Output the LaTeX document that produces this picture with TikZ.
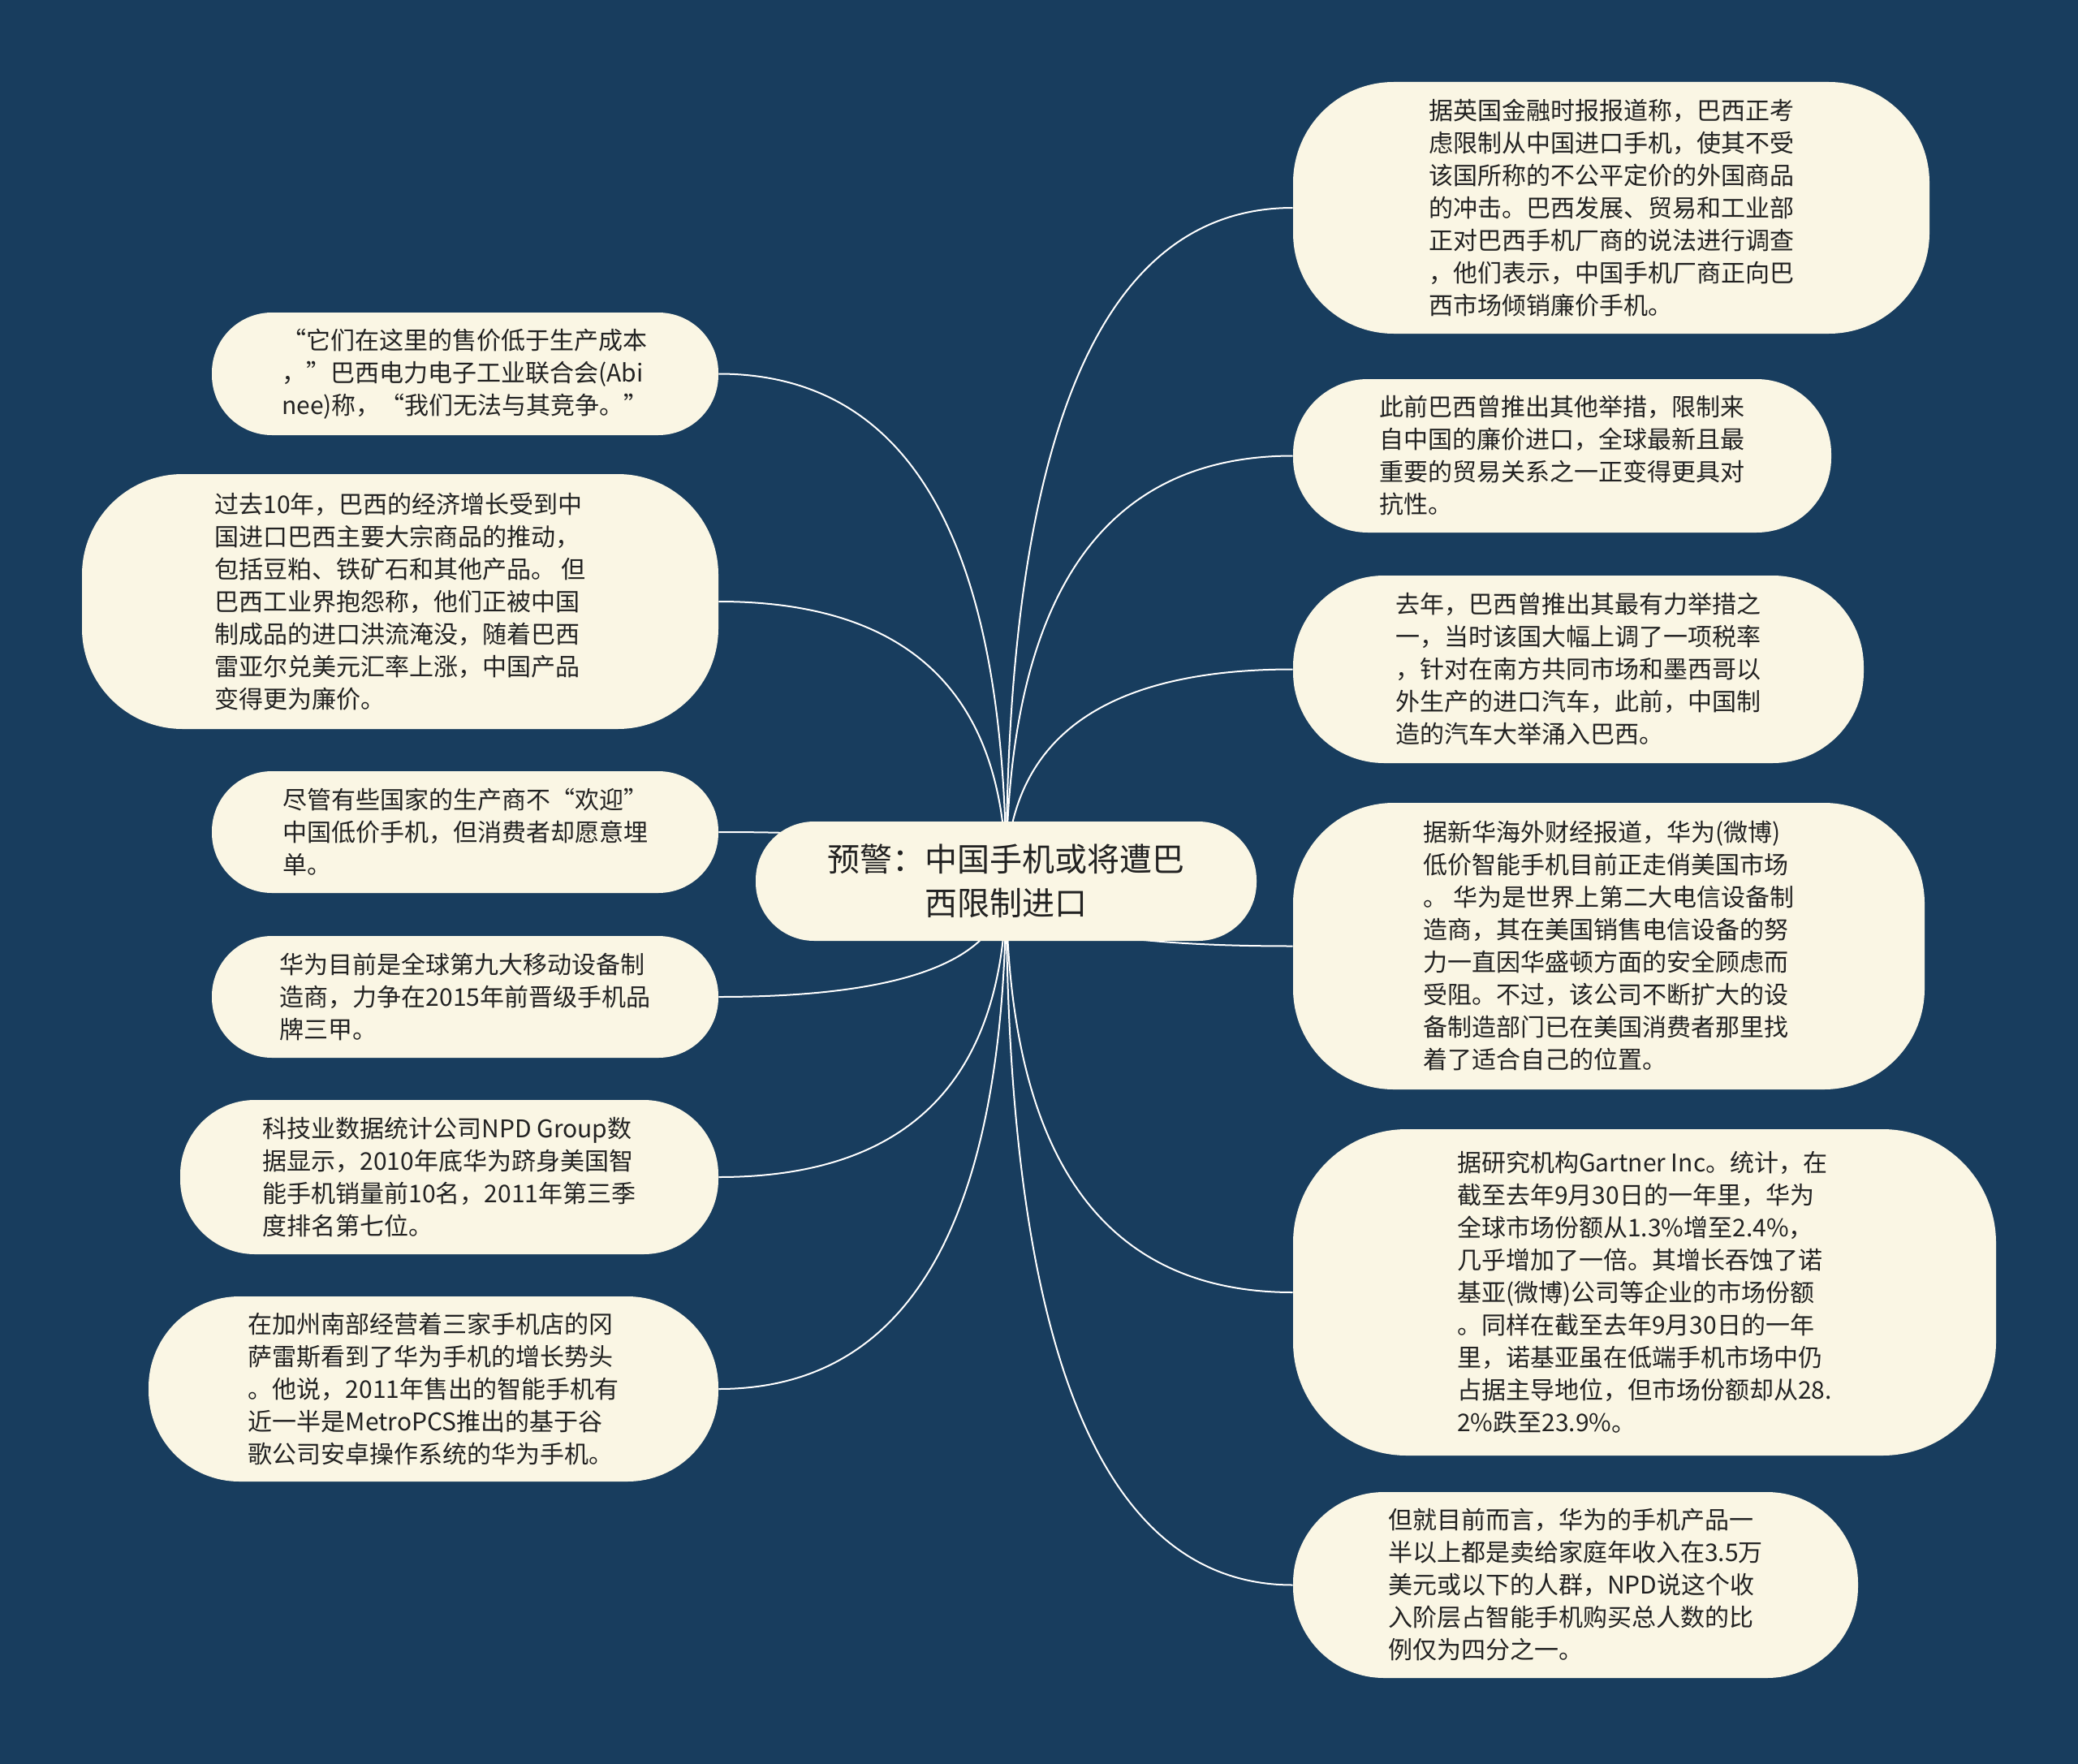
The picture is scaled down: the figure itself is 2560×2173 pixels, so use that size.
\documentclass[tikz,border=0pt]{standalone}
\usepackage{fontspec}
\usepackage{xcolor}
\usetikzlibrary{calc}
\newfontfamily\cjk{Noto Sans CJK SC}
\definecolor{mapnavy}{RGB}{24,61,94}
\definecolor{leafcream}{RGB}{250,246,228}
\definecolor{leaftext}{RGB}{34,34,34}
\pgfdeclarelayer{bg}
\pgfdeclarelayer{links}
\pgfsetlayers{bg,links,main}

\begin{document}
\begin{tikzpicture}[x=0.5pt,y=-0.5pt,
    root/.style={rectangle,rounded corners=36pt,fill=leafcream,text=leaftext,inner sep=0pt,
      align=center,minimum width=308.5pt,minimum height=73.5pt,font=\cjk\fontsize{20pt}{27pt}\selectfont},
    leaf/.style={rectangle,rounded corners=#1,fill=leafcream,text=leaftext,inner sep=0pt,
      align=left,font=\cjk\fontsize{15pt}{20pt}\selectfont},
    leaf/.default=62pt,
    leafsize/.style 2 args={minimum width=#1*0.5pt,minimum height=#2*0.5pt},
    link/.style={draw=white,line width=1pt}
  ]
    \useasboundingbox (0,0) rectangle (2560,2173);
    \begin{pgfonlayer}{bg}
      \fill[mapnavy] (0,0) rectangle (2560,2173);
    \end{pgfonlayer}

    \node[root] (root) at (1239.5,1085.5) {预警：中国手机或将遭巴\\西限制进口};

    % right branch
    \node[leaf,leafsize={784}{310}] (r1) at (1985,256) {据英国金融时报报道称，巴西正考\\虑限制从中国进口手机，使其不受\\该国所称的不公平定价的外国商品\\的冲击。巴西发展、贸易和工业部\\正对巴西手机厂商的说法进行调查\\，他们表示，中国手机厂商正向巴\\西市场倾销廉价手机。};
    \node[leaf=46pt,leafsize={663}{189}] (r2) at (1924.5,561.5) {此前巴西曾推出其他举措，限制来\\自中国的廉价进口，全球最新且最\\重要的贸易关系之一正变得更具对\\抗性。};
    \node[leaf=56pt,leafsize={703}{231}] (r3) at (1944.5,824.5) {去年，巴西曾推出其最有力举措之\\一，当时该国大幅上调了一项税率\\，针对在南方共同市场和墨西哥以\\外生产的进口汽车，此前，中国制\\造的汽车大举涌入巴西。};
    \node[leaf,leafsize={778}{353}] (r4) at (1982,1165.5) {据新华海外财经报道，华为(微博)\\低价智能手机目前正走俏美国市场\\。 华为是世界上第二大电信设备制\\造商，其在美国销售电信设备的努\\力一直因华盛顿方面的安全顾虑而\\受阻。不过，该公司不断扩大的设\\备制造部门已在美国消费者那里找\\着了适合自己的位置。};
    \node[leaf=70pt,leafsize={866}{402}] (r5) at (2026,1592) {据研究机构Gartner Inc。统计，在\\截至去年9月30日的一年里，华为\\全球市场份额从1.3\%增至2.4\%，\\几乎增加了一倍。其增长吞蚀了诺\\基亚(微博)公司等企业的市场份额\\。同样在截至去年9月30日的一年\\里，诺基亚虽在低端手机市场中仍\\占据主导地位，但市场份额却从28.\\2\%跌至23.9\%。};
    \node[leaf=56pt,leafsize={696}{229}] (r6) at (1941,1952.5) {但就目前而言，华为的手机产品一\\半以上都是卖给家庭年收入在3.5万\\美元或以下的人群，NPD说这个收\\入阶层占智能手机购买总人数的比\\例仅为四分之一。};

    % left branch
    \node[leaf=37pt,leafsize={624}{151}] (l1) at (573,460.5) {“它们在这里的售价低于生产成本\\，”巴西电力电子工业联合会(Abi\\nee)称，“我们无法与其竞争。”};
    \node[leaf,leafsize={784}{314}] (l2) at (493,741) {过去10年，巴西的经济增长受到中\\国进口巴西主要大宗商品的推动，\\包括豆粕、铁矿石和其他产品。 但\\巴西工业界抱怨称，他们正被中国\\制成品的进口洪流淹没，随着巴西\\雷亚尔兑美元汇率上涨，中国产品\\变得更为廉价。};
    \node[leaf=37pt,leafsize={624}{150}] (l3) at (573,1025) {尽管有些国家的生产商不“欢迎”\\中国低价手机，但消费者却愿意埋\\单。};
    \node[leaf=37pt,leafsize={624}{150}] (l4) at (573,1228) {华为目前是全球第九大移动设备制\\造商，力争在2015年前晋级手机品\\牌三甲。};
    \node[leaf=46pt,leafsize={663}{190}] (l5) at (553.5,1450) {科技业数据统计公司NPD Group数\\据显示，2010年底华为跻身美国智\\能手机销量前10名，2011年第三季\\度排名第七位。};
    \node[leaf=56pt,leafsize={702}{228}] (l6) at (534,1711) {在加州南部经营着三家手机店的冈\\萨雷斯看到了华为手机的增长势头\\。他说，2011年售出的智能手机有\\近一半是MetroPCS推出的基于谷\\歌公司安卓操作系统的华为手机。};

    % curved links, drawn under the nodes
    \begin{pgfonlayer}{links}
      \foreach \n/\side in {r1/west,r2/west,r3/west,r4/west,r5/west,r6/west,
                            l1/east,l2/east,l3/east,l4/east,l5/east,l6/east}
        \draw[link] (root.center)
          .. controls ($(root.center)!0.667!(root.center |- \n.\side)$)
          and ($(\n.\side)!0.667!(root.center |- \n.\side)$) .. (\n.\side);
    \end{pgfonlayer}
  \end{tikzpicture}
\end{document}
